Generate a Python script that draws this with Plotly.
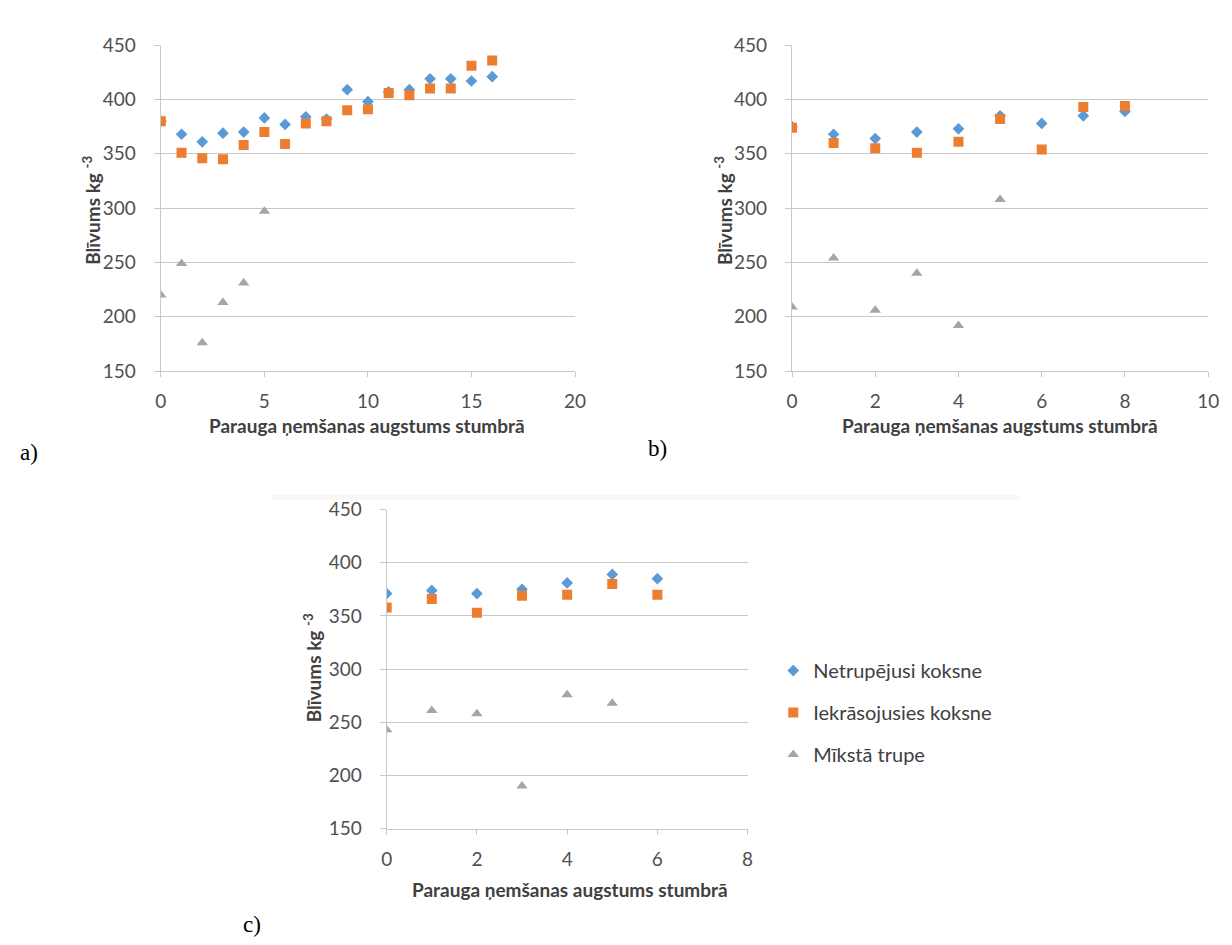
import plotly.graph_objects as go

# ---- data ----
xa = list(range(17))
a_netr = [380, 368, 361, 369, 370, 383, 377, 384, 382, 409, 398, 407, 409, 419, 419, 417, 421]
a_iekr = [380, 351, 346, 345, 358, 370, 359, 378, 380, 390, 391, 406, 404, 410, 410, 431, 436]
xa_m = [0, 1, 2, 3, 4, 5]
a_mik = [220, 249, 176, 213, 231, 297]

xb = list(range(9))
b_netr = [375, 368, 364, 370, 373, 385, 378, 385, 389]
b_iekr = [374, 360, 355, 351, 361, 382, 354, 393, 394]
xb_m = [0, 1, 2, 3, 4, 5]
b_mik = [209, 254, 206, 240, 192, 308]

xc = list(range(7))
c_netr = [371, 374, 371, 375, 381, 389, 385]
c_iekr = [358, 366, 353, 369, 370, 380, 370]
xc_m = [0, 1, 2, 3, 4, 5]
c_mik = [243, 261, 258, 190, 276, 268]

series_names = ["Netrupējusi koksne", "Iekrāsojusies koksne", "Mīkstā trupe"]
colors = ["#5b9bd5", "#ed7d31", "#a5a5a5"]
symbols = ["diamond", "square", "triangle-up"]
msizes = [9, 10, 10]

W, H = 1232, 945
fig = go.Figure()

panels = [
    ("x", "y", [(xa, a_netr), (xa, a_iekr), (xa_m, a_mik)], False),
    ("x2", "y2", [(xb, b_netr), (xb, b_iekr), (xb_m, b_mik)], False),
    ("x3", "y3", [(xc, c_netr), (xc, c_iekr), (xc_m, c_mik)], True),
]
for xr, yr, data, show in panels:
    for i, (xs, ys) in enumerate(data):
        fig.add_trace(go.Scatter(
            x=xs, y=ys, mode="markers", name=series_names[i],
            marker=dict(symbol=symbols[i], color=colors[i], size=msizes[i], line=dict(width=0)),
            xaxis=xr, yaxis=yr, showlegend=show, legendgroup=f"g{i}",
        ))

def px_x(p):
    return p / W

def px_y(p):
    return 1 - p / H

grid = "#c8c8c8"
FONT = "Lato, Open Sans, sans-serif"
tickfont = dict(family=FONT, size=19, color="#505050")

def xax(dom, rng, dtick, anchor):
    return dict(domain=dom, range=rng, dtick=dtick, showgrid=False, zeroline=False,
                showline=True, linecolor=grid, linewidth=1.3, ticks="outside", ticklen=5,
                tickcolor=grid, tickfont=tickfont, ticklabelstandoff=8, anchor=anchor,
                fixedrange=True)

def yax(dom, anchor):
    return dict(domain=dom, range=[150, 450], dtick=50, showgrid=True, gridcolor=grid,
                gridwidth=1.3, zeroline=False, showline=True, linecolor=grid, linewidth=1.3,
                ticks="outside", ticklen=6, tickcolor=grid, tickfont=tickfont,
                ticklabelstandoff=14, anchor=anchor, fixedrange=True)

ya_dom = [px_y(368), px_y(34)]
yc_dom = [px_y(837), px_y(510)]

fig.update_layout(
    width=W, height=H, margin=dict(l=0, r=0, t=0, b=0),
    paper_bgcolor="white", plot_bgcolor="white",
    xaxis=xax([px_x(157), px_x(577)], [0, 20], 5, "y"),
    yaxis=yax(ya_dom, "x"),
    xaxis2=xax([px_x(797), px_x(1219)], [0, 10], 2, "y2"),
    yaxis2=yax(ya_dom, "x2"),
    xaxis3=xax([px_x(386), px_x(752)], [0, 8], 2, "y3"),
    yaxis3=yax(yc_dom, "x3"),
    legend=dict(x=px_x(778), y=px_y(655), xanchor="left", yanchor="top",
                font=dict(family=FONT, size=20, color="#404040"),
                tracegroupgap=13, itemwidth=30, bgcolor="rgba(0,0,0,0)"),
    showlegend=True,
)

# faint frame strip above panel c (as in the scan)
fig.add_shape(type="rect", xref="paper", yref="paper",
              x0=px_x(270), x1=px_x(1028), y0=px_y(500), y1=px_y(495),
              fillcolor="#f7f7f7", line=dict(width=0), layer="below")

title_font = dict(family=FONT, size=19, color="#404040")
xt = "<b>Parauga ņemšanas augstums stumbrā</b>"
yt = "<b>Blīvums kg <sup>-3</sup></b>"
ann = [
    dict(x=px_x(366), y=px_y(424), text=xt),
    dict(x=px_x(1008), y=px_y(424), text=xt),
    dict(x=px_x(572), y=px_y(899), text=xt),
    dict(x=px_x(86), y=px_y(203), text=yt, textangle=-90),
    dict(x=px_x(727), y=px_y(203), text=yt, textangle=-90),
    dict(x=px_x(311), y=px_y(672), text=yt, textangle=-90),
]
for a in ann:
    fig.add_annotation(xref="paper", yref="paper", showarrow=False, font=title_font,
                       xanchor="center", yanchor="middle", **a)

lab_font = dict(family="Liberation Serif, Times New Roman, serif", size=23, color="black")
for txt, x, y in [("a)", 23, 451), ("b)", 661, 447), ("c)", 249, 935)]:
    fig.add_annotation(xref="paper", yref="paper", x=px_x(x), y=px_y(y), text=txt,
                       showarrow=False, font=lab_font, xanchor="center", yanchor="middle")

fig.write_html("out.html")
